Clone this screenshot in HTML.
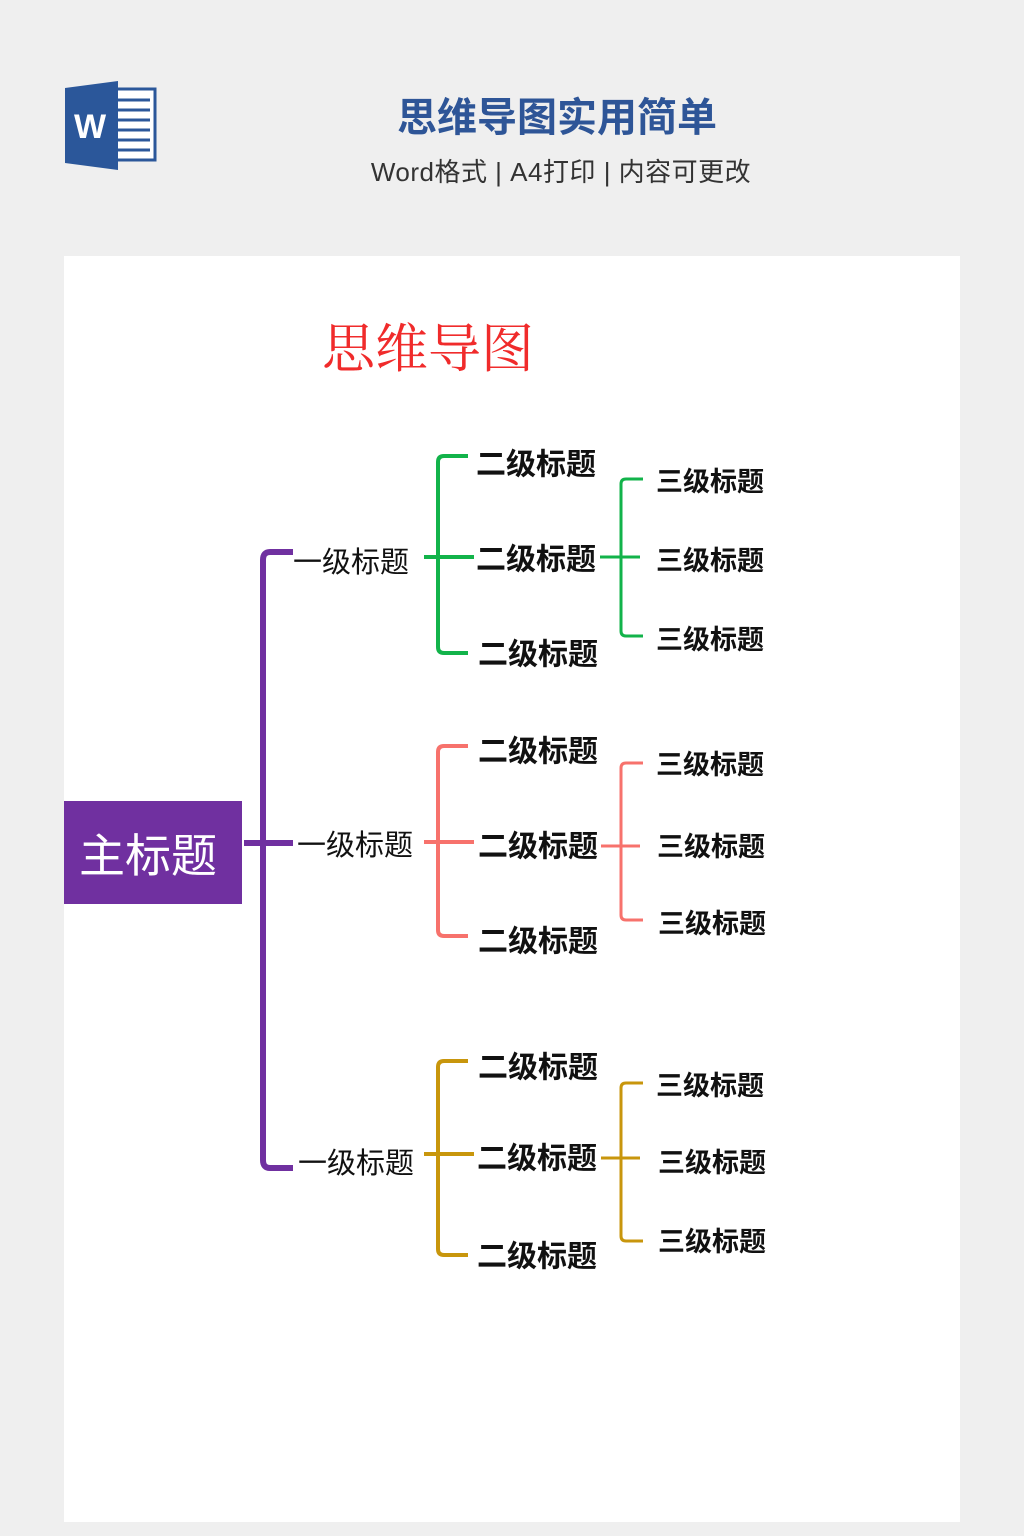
<!DOCTYPE html>
<html><head><meta charset="utf-8"><style>
html,body{margin:0;padding:0;background:#efefef;}
body{width:1024px;height:1536px;position:relative;overflow:hidden;font-family:"Liberation Sans","Noto Sans CJK SC",sans-serif;}
</style></head><body>
<svg width="1024" height="1536" viewBox="0 0 1024 1536" xmlns="http://www.w3.org/2000/svg" style="position:absolute;left:0;top:0">
<rect x="0" y="0" width="1024" height="1536" fill="#efefef"/>
<rect x="112" y="89" width="43" height="71" fill="#fff" stroke="#2b579a" stroke-width="3"/>
<g stroke="#2b579a" stroke-width="3">
<line x1="118" y1="100" x2="150" y2="100"/><line x1="118" y1="110" x2="150" y2="110"/>
<line x1="118" y1="120" x2="150" y2="120"/><line x1="118" y1="130" x2="150" y2="130"/>
<line x1="118" y1="140" x2="150" y2="140"/><line x1="118" y1="150" x2="150" y2="150"/>
</g>
<polygon points="65,88 118,81 118,170 65,163" fill="#2b579a"/>
<text x="90" y="127" font-family="Liberation Sans" font-weight="bold" font-size="34" fill="#fff" text-anchor="middle" dominant-baseline="central">W</text>
<text x="557" y="118" font-family="Liberation Sans,Noto Sans CJK SC,sans-serif" font-weight="bold" font-size="40" fill="#2e5597" text-anchor="middle" dominant-baseline="central">思维导图实用简单</text>
<text x="561" y="172" font-family="Liberation Sans,Noto Sans CJK SC,sans-serif" font-size="26" fill="#333" text-anchor="middle" dominant-baseline="central" letter-spacing="0.5">Word格式 | A4打印 | 内容可更改</text>
<rect x="64" y="256" width="896" height="1266" fill="#fff"/>
<text x="322" y="350" font-family="Liberation Serif,Noto Serif CJK SC,serif" font-size="53" fill="#f02b2b" dominant-baseline="central">思维导图</text>
<rect x="64" y="801" width="178" height="103" fill="#7030a0"/>
<text x="148" y="856" font-family="Liberation Sans,Noto Sans CJK SC,sans-serif" font-size="46" fill="#fff" text-anchor="middle" dominant-baseline="central">主标题</text>
<g fill="none" stroke="#7030a0" stroke-width="6">
<path d="M293,552 H270 Q263,552 263,560 V1160 Q263,1168 270,1168 H293"/>
<line x1="244" y1="843" x2="293" y2="843"/>
</g>
<g font-family="Liberation Sans,Noto Sans CJK SC,sans-serif" font-size="29" fill="#111" dominant-baseline="central">
<text x="293" y="563">一级标题</text>
<text x="297" y="846">一级标题</text>
<text x="298" y="1164">一级标题</text>
</g>
<g fill="none" stroke="#12b34a">
<path d="M468,456 H444 Q438,456 438,462 V647 Q438,653 444,653 H468" stroke-width="4"/>
<line x1="424" y1="557" x2="474" y2="557" stroke-width="4"/>
<path d="M643,479 H626 Q621,479 621,484 V631 Q621,636 626,636 H643" stroke-width="3"/>
<line x1="600" y1="557" x2="640" y2="557" stroke-width="3"/>
</g>
<g fill="none" stroke="#f7726c">
<path d="M468,746 H444 Q438,746 438,752 V930 Q438,936 444,936 H468" stroke-width="4"/>
<line x1="424" y1="842" x2="474" y2="842" stroke-width="4"/>
<path d="M643,763 H626 Q621,763 621,768 V915 Q621,920 626,920 H643" stroke-width="3"/>
<line x1="601" y1="846" x2="640" y2="846" stroke-width="3"/>
</g>
<g fill="none" stroke="#c8960c">
<path d="M468,1061 H444 Q438,1061 438,1067 V1249 Q438,1255 444,1255 H468" stroke-width="4"/>
<line x1="424" y1="1154" x2="474" y2="1154" stroke-width="4"/>
<path d="M643,1083 H626 Q621,1083 621,1088 V1236 Q621,1241 626,1241 H643" stroke-width="3"/>
<line x1="601" y1="1158" x2="640" y2="1158" stroke-width="3"/>
</g>
<g font-family="Liberation Sans,Noto Sans CJK SC,sans-serif" font-weight="bold" font-size="30" fill="#111" dominant-baseline="central">
<text x="476" y="465">二级标题</text>
<text x="476" y="560">二级标题</text>
<text x="478" y="655">二级标题</text>
<text x="478" y="752">二级标题</text>
<text x="478" y="847">二级标题</text>
<text x="478" y="942">二级标题</text>
<text x="478" y="1068">二级标题</text>
<text x="477" y="1159">二级标题</text>
<text x="477" y="1257">二级标题</text>
</g>
<g font-family="Liberation Sans,Noto Sans CJK SC,sans-serif" font-weight="bold" font-size="27" fill="#111" dominant-baseline="central">
<text x="656" y="482">三级标题</text>
<text x="656" y="561">三级标题</text>
<text x="656" y="640">三级标题</text>
<text x="656" y="765">三级标题</text>
<text x="657" y="847">三级标题</text>
<text x="658" y="924">三级标题</text>
<text x="656" y="1086">三级标题</text>
<text x="658" y="1163">三级标题</text>
<text x="658" y="1242">三级标题</text>
</g>
</svg>
</body></html>
